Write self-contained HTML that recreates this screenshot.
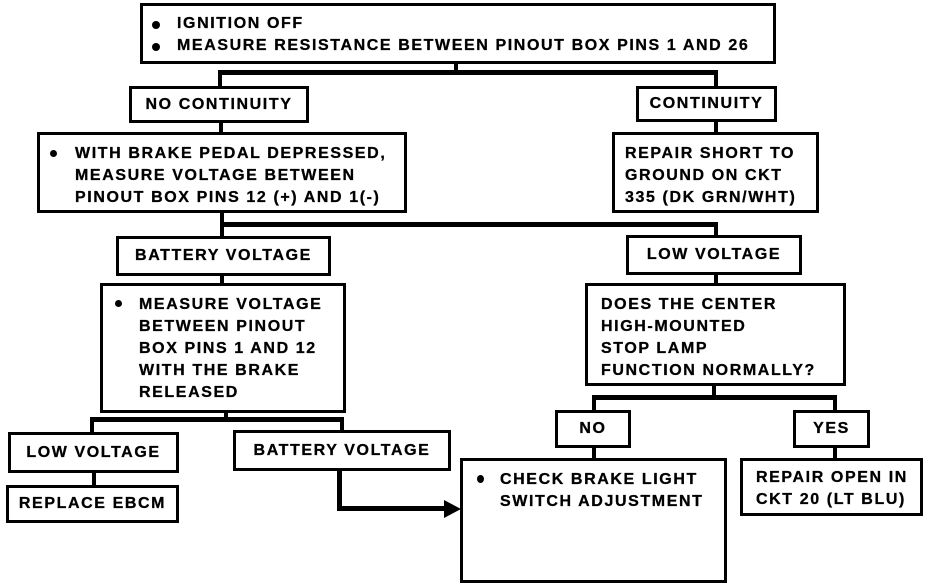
<!DOCTYPE html>
<html><head><meta charset="utf-8"><style>
body{margin:0;width:944px;height:586px;background:#fff;position:relative;overflow:hidden;font-family:"Liberation Sans",Arial,sans-serif;font-weight:bold;color:#000}
.b{position:absolute;border:3px solid #000;box-sizing:border-box;font-size:16px;line-height:22px;letter-spacing:1.6px;white-space:nowrap;-webkit-text-stroke:0.3px #000}
.c{display:flex;align-items:center;justify-content:center}
.l{position:absolute;background:#000}
.t{position:absolute;white-space:nowrap;letter-spacing:1.6px;-webkit-text-stroke:0.3px #000}
.dot{position:absolute;width:8px;height:8px;border-radius:50%;background:#000}
</style></head><body>
<!-- connectors -->
<div class="l" style="left:454px;top:62px;width:4px;height:12px"></div>
<div class="l" style="left:218px;top:70px;width:500px;height:5px"></div>
<div class="l" style="left:218px;top:70px;width:4px;height:18px"></div>
<div class="l" style="left:714px;top:70px;width:4px;height:18px"></div>
<div class="l" style="left:219px;top:121px;width:4px;height:12px"></div>
<div class="l" style="left:714px;top:120px;width:4px;height:13px"></div>
<div class="l" style="left:220px;top:211px;width:4px;height:14px"></div>
<div class="l" style="left:220px;top:222px;width:498px;height:5px"></div>
<div class="l" style="left:220px;top:222px;width:4px;height:15px"></div>
<div class="l" style="left:714px;top:222px;width:4px;height:15px"></div>
<div class="l" style="left:220px;top:274px;width:4px;height:10px"></div>
<div class="l" style="left:714px;top:273px;width:4px;height:11px"></div>
<div class="l" style="left:224px;top:411px;width:4px;height:8px"></div>
<div class="l" style="left:90px;top:417px;width:254px;height:5px"></div>
<div class="l" style="left:90px;top:417px;width:4px;height:16px"></div>
<div class="l" style="left:340px;top:417px;width:4px;height:14px"></div>
<div class="l" style="left:92px;top:471px;width:4px;height:15px"></div>
<div class="l" style="left:712px;top:384px;width:4px;height:14px"></div>
<div class="l" style="left:592px;top:395px;width:245px;height:5px"></div>
<div class="l" style="left:592px;top:395px;width:4px;height:16px"></div>
<div class="l" style="left:833px;top:395px;width:4px;height:16px"></div>
<div class="l" style="left:592px;top:446px;width:4px;height:13px"></div>
<div class="l" style="left:833px;top:446px;width:4px;height:13px"></div>
<div class="l" style="left:337px;top:469px;width:5px;height:42px"></div>
<div class="l" style="left:337px;top:506px;width:112px;height:5px"></div>
<svg style="position:absolute;left:444px;top:499px" width="18" height="20"><polygon points="0,1 17,10 0,19" fill="#000"/></svg>
<!-- boxes -->
<div class="b" style="left:140px;top:3px;width:636px;height:61px"></div>
<div class="dot" style="left:152px;top:21px"></div><div class="t" style="left:177px;top:15px;font-size:16px">IGNITION OFF</div>
<div class="dot" style="left:152px;top:43px"></div><div class="t" style="left:177px;top:37px;font-size:16px">MEASURE RESISTANCE BETWEEN PINOUT BOX PINS 1 AND 26</div>
<div class="b c" style="left:129px;top:86px;width:180px;height:37px">NO CONTINUITY</div>
<div class="b c" style="left:636px;top:86px;width:141px;height:36px">CONTINUITY</div>
<div class="b" style="left:37px;top:132px;width:370px;height:81px;padding:8px 0 0 35px">WITH BRAKE PEDAL DEPRESSED,<br>MEASURE VOLTAGE BETWEEN<br>PINOUT BOX PINS 12 (+) AND 1(-)</div>
<div class="dot" style="left:50px;top:150px;width:7px;height:7px"></div>
<div class="b" style="left:612px;top:132px;width:207px;height:81px;padding:8px 0 0 10px">REPAIR SHORT TO<br>GROUND ON CKT<br>335 (DK GRN/WHT)</div>
<div class="b c" style="left:116px;top:236px;width:215px;height:40px">BATTERY VOLTAGE</div>
<div class="b c" style="left:626px;top:235px;width:176px;height:40px">LOW VOLTAGE</div>
<div class="b" style="left:100px;top:283px;width:246px;height:130px;padding:8px 0 0 36px">MEASURE VOLTAGE<br>BETWEEN PINOUT<br>BOX PINS 1 AND 12<br>WITH THE BRAKE<br>RELEASED</div>
<div class="dot" style="left:115px;top:300px;width:7px;height:7px"></div>
<div class="b" style="left:585px;top:283px;width:261px;height:103px;padding:8px 0 0 13px">DOES THE CENTER<br>HIGH-MOUNTED<br>STOP LAMP<br>FUNCTION NORMALLY?</div>
<div class="b c" style="left:555px;top:410px;width:76px;height:38px">NO</div>
<div class="b c" style="left:793px;top:410px;width:77px;height:38px">YES</div>
<div class="b c" style="left:8px;top:432px;width:171px;height:41px">LOW VOLTAGE</div>
<div class="b c" style="left:233px;top:430px;width:218px;height:41px">BATTERY VOLTAGE</div>
<div class="b c" style="left:6px;top:485px;width:173px;height:38px">REPLACE EBCM</div>
<div class="b" style="left:460px;top:458px;width:267px;height:125px;padding:8px 0 0 37px">CHECK BRAKE LIGHT<br>SWITCH ADJUSTMENT</div>
<div class="dot" style="left:477px;top:475px;width:7px;height:8px"></div>
<div class="b" style="left:740px;top:458px;width:183px;height:58px;padding:6px 0 0 13px">REPAIR OPEN IN<br>CKT 20 (LT BLU)</div>
</body></html>
